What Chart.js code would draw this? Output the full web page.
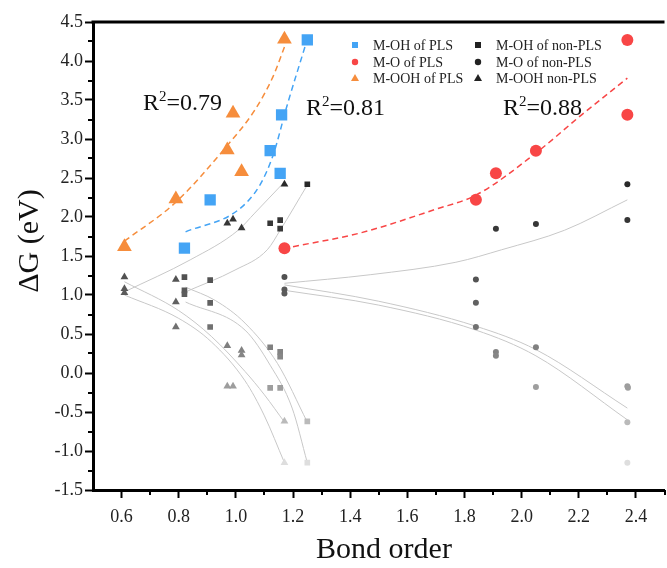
<!DOCTYPE html>
<html>
<head>
<meta charset="utf-8">
<script src="https://cdn.jsdelivr.net/npm/chart.js@4.4.1/dist/chart.umd.min.js"></script>
<style>
  html, body { margin: 0; padding: 0; background: #fff; overflow: hidden; }
  canvas { display: block; }
</style>
</head>
<body>
<canvas id="chart" width="673" height="568"></canvas>
<script>
// ΔG vs bond order, PLS / non-PLS adsorbates

const SERIF = "'Liberation Serif', 'Times New Roman', serif";

// tick labels
const xTicks = [0.6, 0.8, 1.0, 1.2, 1.4, 1.6, 1.8, 2.0, 2.2, 2.4];
const yTicks = [-1.5, -1.0, -0.5, 0.0, 0.5, 1.0, 1.5, 2.0, 2.5, 3.0, 3.5, 4.0, 4.5];

// PLS points
const plsOhX  = [0.82, 0.91, 1.12, 1.155, 1.16, 1.25];
const plsOhY  = [1.60, 2.22, 2.85, 2.56, 3.31, 4.27];
const plsOX   = [1.17, 1.84, 1.91, 2.05, 2.37, 2.37];
const plsOY   = [1.60, 2.22, 2.56, 2.85, 3.31, 4.27];
const plsOohX = [0.61, 0.79, 0.97, 0.99, 1.02, 1.17];
const plsOohY = [1.62, 2.23, 2.86, 3.33, 2.58, 4.28];

// non-PLS points
const npOhX  = [0.82, 0.82, 0.82, 0.91, 0.91, 0.91, 1.12, 1.12, 1.12,
                1.155, 1.155, 1.155, 1.155, 1.155, 1.25, 1.25, 1.25];
const npOhY  = [1.23, 1.06, 1.01, 1.19, 0.90, 0.59, 1.92, 0.33, -0.19,
                1.96, 1.85, 0.27, 0.21, -0.19, 2.42, -0.62, -1.15];
const npOX   = [1.17, 1.17, 1.17, 1.84, 1.84, 1.84, 1.91, 1.91, 1.91,
                2.05, 2.05, 2.05, 2.37, 2.37, 2.37, 2.372, 2.37, 2.37];
const npOY   = [1.23, 1.07, 1.02, 1.20, 0.90, 0.59, 1.85, 0.27, 0.22,
                1.91, 0.33, -0.18, 2.42, 1.96, -0.17, -0.19, -0.63, -1.15];
const npOohX = [0.61, 0.61, 0.61, 0.79, 0.79, 0.79, 0.97, 0.97, 0.97,
                0.99, 0.99, 1.02, 1.02, 1.02, 1.17, 1.17, 1.17];
const npOohY = [1.23, 1.08, 1.03, 1.20, 0.91, 0.59, 1.92, 0.35, -0.17,
                1.97, -0.17, 1.86, 0.29, 0.23, 2.42, -0.62, -1.15];

// fitted curves
const fitOohPlsX = [0.61, 0.79, 0.966, 1.066, 1.13, 1.17];
const fitOohPlsY = [1.69, 2.19, 2.90, 3.37, 3.80, 4.18];
const fitOhPlsX  = [0.824, 1.008, 1.084, 1.13, 1.18, 1.245];
const fitOhPlsY  = [1.81, 2.09, 2.41, 2.79, 3.44, 4.22];
const fitOPlsX   = [1.20, 1.43, 1.70, 1.84, 2.05, 2.21, 2.37];
const fitOPlsY   = [1.62, 1.79, 2.10, 2.28, 2.82, 3.31, 3.78];

const fitTUpX  = [0.61, 0.84, 1.008, 1.066, 1.17];
const fitTUpY  = [1.04, 1.45, 1.83, 2.05, 2.45];
const fitTDnX  = [0.61, 0.80, 0.914, 1.032, 1.10, 1.17];
const fitTDnAY = [1.17, 0.80, 0.47, 0.02, -0.28, -0.63];
const fitTDnBY = [1.00, 0.70, 0.40, -0.10, -0.55, -1.15];

const fitSUpX  = [0.824, 0.997, 1.11, 1.155, 1.25];
const fitSUpY  = [1.04, 1.32, 1.58, 1.83, 2.41];
const fitSDnAX = [0.824, 0.928, 1.032, 1.146, 1.25];
const fitSDnAY = [1.10, 0.93, 0.64, 0.12, -0.63];
const fitSDnBX = [0.824, 1.032, 1.12, 1.197, 1.25];
const fitSDnBY = [0.91, 0.55, 0.10, -0.45, -1.15];

const fitCUpX  = [1.17, 1.47, 1.77, 1.93, 2.15, 2.37];
const fitCUpY  = [1.15, 1.26, 1.42, 1.58, 1.83, 2.22];
const fitCDnX  = [1.17, 1.50, 1.84, 2.05, 2.37];
const fitCDnAY = [1.13, 0.92, 0.60, 0.30, -0.45];
const fitCDnBY = [1.06, 0.87, 0.55, 0.22, -0.60];

const r2Labels = ['0.79', '0.81', '0.88'];

const BLUE = '#44a4f5';
const RED = '#f84646';
const ORANGE = '#f68d3c';
const FIT_GRAY = '#c8c8c8';

function pts(xs, ys) {
  return xs.map((x, i) => ({ x, y: ys[i] }));
}

// non-PLS markers get lighter as ΔG drops
function shade(ctx) {
  const y = ctx.raw ? ctx.raw.y : 2.5;
  const t = Math.min(1, Math.max(0, (2.5 - y) / 3.7));
  const g = Math.round(40 + 185 * Math.pow(t, 1.4));
  return `rgb(${g},${g},${g})`;
}

function fit(xs, ys, color, dashed) {
  return {
    data: pts(xs, ys),
    showLine: true,
    borderColor: color,
    borderWidth: dashed ? 1.5 : 1,
    borderDash: dashed ? [6, 4] : [],
    pointRadius: 0,
    cubicInterpolationMode: 'monotone',
    order: dashed ? 4 : 5,
  };
}

function marks(xs, ys, style, radius, color, order) {
  return {
    data: pts(xs, ys),
    pointStyle: style,
    pointRadius: radius,
    pointHoverRadius: radius,
    pointBorderWidth: 0,
    pointBackgroundColor: color,
    showLine: false,
    order,
  };
}

const overlay = {
  id: 'overlay',
  afterDatasetsDraw(chart) {
    const { ctx, chartArea: a, scales: { x, y } } = chart;
    ctx.save();

    // top frame
    ctx.strokeStyle = '#000';
    ctx.lineWidth = 3;
    ctx.beginPath();
    ctx.moveTo(a.left - 1.5, a.top);
    ctx.lineTo(a.right, a.top);
    ctx.stroke();

    // minor ticks
    ctx.lineWidth = 2;
    ctx.beginPath();
    for (let i = 7; i <= 25; i += 2) {
      const px = Math.round(x.getPixelForValue(i / 10));
      ctx.moveTo(px, a.bottom);
      ctx.lineTo(px, a.bottom + 5);
    }
    for (let v = -1.25; v < 4.5; v += 0.5) {
      const py = Math.round(y.getPixelForValue(v));
      ctx.moveTo(a.left, py);
      ctx.lineTo(a.left - 5, py);
    }
    ctx.stroke();

    // axis titles
    ctx.fillStyle = '#111';
    ctx.font = `30px ${SERIF}`;
    ctx.textAlign = 'center';
    ctx.textBaseline = 'alphabetic';
    ctx.fillText('Bond order', 384, 558);
    ctx.save();
    ctx.translate(38, 241);
    ctx.rotate(-Math.PI / 2);
    ctx.fillText('\u0394G (eV)', 0, 0);
    ctx.restore();

    // R² notes
    const r2Pos = [[143, 110], [306, 115], [503, 115]];
    ctx.textAlign = 'left';
    r2Labels.forEach((lab, i) => {
      let [px, py] = r2Pos[i];
      ctx.font = `24px ${SERIF}`;
      ctx.fillText('R', px, py);
      px += ctx.measureText('R').width;
      ctx.font = `15px ${SERIF}`;
      ctx.fillText('2', px, py - 9);
      px += ctx.measureText('2').width;
      ctx.font = `24px ${SERIF}`;
      ctx.fillText('=' + lab, px, py);
    });

    // legend
    const legend = [
      ['M-OH of PLS', 'rect', BLUE, 355, 45],
      ['M-O of PLS', 'circle', RED, 355, 62],
      ['M-OOH of PLS', 'triangle', ORANGE, 355, 78],
      ['M-OH of non-PLS', 'rect', '#222', 478, 45],
      ['M-O of non-PLS', 'circle', '#222', 478, 62],
      ['M-OOH non-PLS', 'triangle', '#222', 478, 78],
    ];
    ctx.font = `14px ${SERIF}`;
    ctx.textBaseline = 'middle';
    legend.forEach(([text, style, color, mx, my]) => {
      ctx.fillStyle = color;
      ctx.beginPath();
      if (style === 'rect') ctx.rect(mx - 3, my - 3, 6, 6);
      else if (style === 'circle') ctx.arc(mx, my, 3.2, 0, Math.PI * 2);
      else { ctx.moveTo(mx, my - 4); ctx.lineTo(mx + 4, my + 3); ctx.lineTo(mx - 4, my + 3); ctx.closePath(); }
      ctx.fill();
      ctx.fillStyle = '#222';
      ctx.fillText(text, mx + 18, my + 1);
    });

    ctx.restore();
  },
};

const tickFont = { family: SERIF, size: 18 };

new Chart(document.getElementById('chart'), {
  type: 'scatter',
  data: {
    datasets: [
      marks(plsOhX, plsOhY, 'rect', 8, BLUE, 1),
      marks(plsOX, plsOY, 'circle', 6, RED, 1),
      marks(plsOohX, plsOohY, 'triangle', 8.5, ORANGE, 1),
      marks(npOhX, npOhY, 'rect', 4, shade, 2),
      marks(npOX, npOY, 'circle', 3, shade, 2),
      marks(npOohX, npOohY, 'triangle', 4.5, shade, 2),
      fit(fitOohPlsX, fitOohPlsY, ORANGE, true),
      fit(fitOhPlsX, fitOhPlsY, BLUE, true),
      fit(fitOPlsX, fitOPlsY, RED, true),
      fit(fitTUpX, fitTUpY, FIT_GRAY),
      fit(fitTDnX, fitTDnAY, FIT_GRAY),
      fit(fitTDnX, fitTDnBY, FIT_GRAY),
      fit(fitSUpX, fitSUpY, FIT_GRAY),
      fit(fitSDnAX, fitSDnAY, FIT_GRAY),
      fit(fitSDnBX, fitSDnBY, FIT_GRAY),
      fit(fitCUpX, fitCUpY, FIT_GRAY),
      fit(fitCDnX, fitCDnAY, FIT_GRAY),
      fit(fitCDnX, fitCDnBY, FIT_GRAY),
    ],
  },
  options: {
    responsive: false,
    animation: false,
    layout: { padding: { top: 22, right: 0, left: 0, bottom: 0 } },
    plugins: {
      legend: { display: false },
      tooltip: { enabled: false },
    },
    scales: {
      x: {
        type: 'linear',
        min: 0.5,
        max: 2.5,
        afterFit: s => { s.height = 78; },
        afterBuildTicks: s => { s.ticks = xTicks.map(v => ({ value: v })); },
        border: { display: true, color: '#000', width: 3 },
        grid: { display: true, drawOnChartArea: false, drawTicks: true, tickLength: 8, tickWidth: 2, tickColor: '#000' },
        ticks: {
          autoSkip: false,
          maxRotation: 0,
          padding: 8,
          color: '#222',
          font: tickFont,
          callback: v => Number(v).toFixed(1),
        },
      },
      y: {
        type: 'linear',
        min: -1.5,
        max: 4.5,
        afterFit: s => { s.width = 93; },
        afterBuildTicks: s => { s.ticks = yTicks.map(v => ({ value: v })); },
        border: { display: true, color: '#000', width: 3 },
        grid: { display: true, drawOnChartArea: false, drawTicks: true, tickLength: 8, tickWidth: 2, tickColor: '#000' },
        ticks: {
          autoSkip: false,
          padding: 2,
          color: '#222',
          font: tickFont,
          callback: v => Number(v).toFixed(1),
        },
      },
    },
  },
  plugins: [overlay],
});
</script>
</body>
</html>
